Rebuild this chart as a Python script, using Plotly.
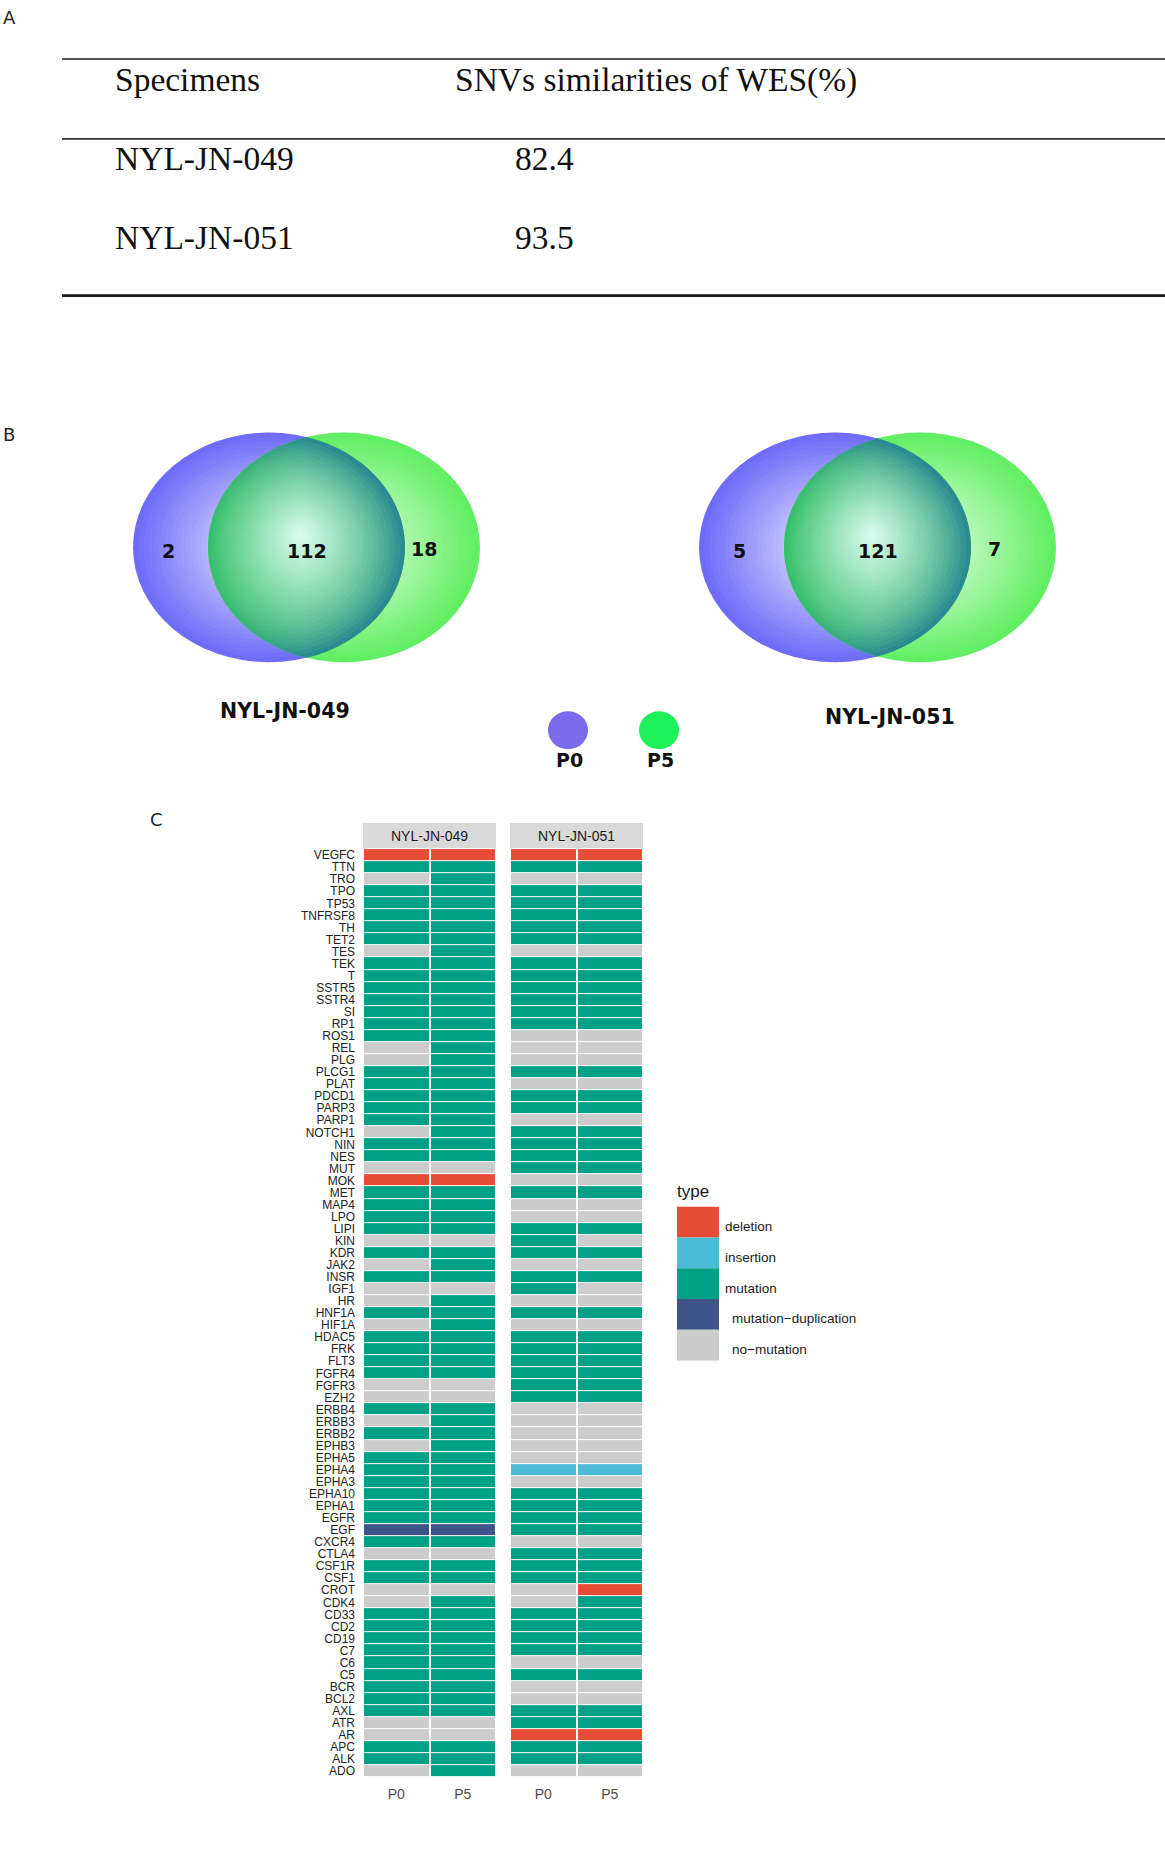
import numpy as np
import plotly.graph_objects as go

W, H = 1165, 1849

# ---------------- Panel A data ----------------
table_header = ["Specimens", "SNVs similarities of WES(%)"]
specimens = ["NYL-JN-049", "NYL-JN-051"]
similarity = ["82.4", "93.5"]

# ---------------- Panel B data ----------------
venn_names = ["NYL-JN-049", "NYL-JN-051"]
only_p0 = [2, 5]
shared = [112, 121]
only_p5 = [18, 7]
groups = ["P0", "P5"]

# ---------------- Panel C data ----------------
genes = ["VEGFC", "TTN", "TRO", "TPO", "TP53", "TNFRSF8", "TH", "TET2", "TES", "TEK",
         "T", "SSTR5", "SSTR4", "SI", "RP1", "ROS1", "REL", "PLG", "PLCG1", "PLAT",
         "PDCD1", "PARP3", "PARP1", "NOTCH1", "NIN", "NES", "MUT", "MOK", "MET", "MAP4",
         "LPO", "LIPI", "KIN", "KDR", "JAK2", "INSR", "IGF1", "HR", "HNF1A", "HIF1A",
         "HDAC5", "FRK", "FLT3", "FGFR4", "FGFR3", "EZH2", "ERBB4", "ERBB3", "ERBB2", "EPHB3",
         "EPHA5", "EPHA4", "EPHA3", "EPHA10", "EPHA1", "EGFR", "EGF", "CXCR4", "CTLA4", "CSF1R",
         "CSF1", "CROT", "CDK4", "CD33", "CD2", "CD19", "C7", "C6", "C5", "BCR",
         "BCL2", "AXL", "ATR", "AR", "APC", "ALK", "ADO"]
samples = ["NYL-JN-049", "NYL-JN-051"]
passages = ["P0", "P5"]
# codes: D=deletion, I=insertion, M=mutation, U=mutation-duplication, N=no-mutation
nyl049_p0 = list("DMNMMMMMNM" "MMMMMMNNMM" "MMMNMMNDMM" "MMNMNMNNMN"
                 "MMMMNNMNMN" "MMMMMMUMNM" "MNNMMMMMMM" "MMNNMMN")
nyl049_p5 = list("DMMMMMMMMM" "MMMMMMMMMM" "MMMMMMNDMM" "MMNMMMNMMM"
                 "MMMMNNMMMM" "MMMMMMUMNM" "MNMMMMMMMM" "MMNNMMM")
nyl051_p0 = list("DMNMMMMMNM" "MMMMMNNNMN" "MMNMMMMNMN" "NMMMNMMNMN"
                 "MMMMMMNNNN" "NINMMMMNMM" "MNNMMMMNMN" "NMMDMMN")
nyl051_p5 = list("DMNMMMMMNM" "MMMMMNNNMN" "MMNMMMMNMN" "NMNMNMNNMN"
                 "MMMMMMNNNN" "NINMMMMNMM" "MDMMMMMNMN" "NMMDMMN")
types = ["deletion", "insertion", "mutation", "mutation\u2212duplication", "no\u2212mutation"]
type_codes = ["D", "I", "M", "U", "N"]
type_colors = ["#E64B35", "#4DBBD5", "#00A087", "#3C5488", "#CCCCCC"]

# ------------------------------------------------------------------
fig = go.Figure()
shapes = []
annotations = []


def txt(x, y, s, size, family="Liberation Sans", color="#111111", xanchor="center",
        yanchor="middle", weight="normal"):
    annotations.append(dict(x=x, y=y, xref="x", yref="y", text=s, showarrow=False,
                            xanchor=xanchor, yanchor=yanchor,
                            font=dict(size=size, family=family, color=color, weight=weight)))


def line(x0, x1, y, width, color="#1a1a1a"):
    shapes.append(dict(type="line", xref="x", yref="y", x0=x0, x1=x1, y0=y, y1=y,
                       line=dict(color=color, width=width)))


def lerp(c0, c1, t):
    return "rgb(%d,%d,%d)" % tuple(round(a + (b - a) * t) for a, b in zip(c0, c1))


def poly_path(pts):
    return "M " + " L ".join("%.2f,%.2f" % (a, b) for a, b in pts) + " Z"


def ellipse_poly(cx, cy, rx, ry, n=120):
    a = np.linspace(0, 2 * np.pi, n, endpoint=False)
    return list(zip(cx + rx * np.cos(a), cy + ry * np.sin(a)))


def signed_area(p):
    return 0.5 * sum(p[i][0] * p[(i + 1) % len(p)][1] - p[(i + 1) % len(p)][0] * p[i][1]
                     for i in range(len(p)))


def clip_convex(subject, clipper):
    sgn = 1 if signed_area(clipper) > 0 else -1
    out = list(subject)
    n = len(clipper)
    for i in range(n):
        if not out:
            break
        ax, ay = clipper[i]
        bx, by = clipper[(i + 1) % n]

        def side(p):
            return sgn * ((bx - ax) * (p[1] - ay) - (by - ay) * (p[0] - ax))

        def inter(p, q):
            d1, d2 = side(p), side(q)
            t = d1 / (d1 - d2)
            return (p[0] + t * (q[0] - p[0]), p[1] + t * (q[1] - p[1]))

        inp = out
        out = []
        for j in range(len(inp)):
            cur = inp[j]
            prev = inp[j - 1]
            if side(cur) >= 0:
                if side(prev) < 0:
                    out.append(inter(prev, cur))
                out.append(cur)
            elif side(prev) >= 0:
                out.append(inter(prev, cur))
    return out


# ---------------- Panel A: table ----------------
txt(9, 17, "A", 18, family="DejaVu Sans", color="#222")
line(62, 1165, 58, 1.6)
line(62, 1165, 138, 1.6, color="#333")
line(62, 1165, 295, 2.8)
TF = 33.5
txt(113, 79, table_header[0], TF, family="Liberation Serif", xanchor="left")
txt(453, 79, table_header[1], TF, family="Liberation Serif", xanchor="left")
for i, (sp, val) in enumerate(zip(specimens, similarity)):
    yy = 158 + i * 79
    txt(113, yy, sp, TF, family="Liberation Serif", xanchor="left")
    txt(513, yy, val, TF, family="Liberation Serif", xanchor="left")

# ---------------- Panel B: Venn diagrams ----------------
txt(9, 434, "B", 18, family="DejaVu Sans", color="#222")

BLUE_EDGE, BLUE_CEN = (110, 108, 248), (238, 236, 255)
GREEN_EDGE, GREEN_CEN = (98, 238, 98), (232, 255, 232)
LENS_EDGE, LENS_CEN = (50, 192, 100), (215, 250, 238)
TINT_EDGE = (40, 105, 175)
NL = 26


def ellipse_layers(cx, cy, rx, ry, c_edge, c_cen):
    for k in range(NL):
        s = 1 - k / NL
        t = k / (NL - 1)
        shapes.append(dict(type="circle", xref="x", yref="y",
                           x0=cx - s * rx, x1=cx + s * rx, y0=cy - s * ry, y1=cy + s * ry,
                           fillcolor=lerp(c_edge, c_cen, t), line=dict(width=0)))


def lens_polygon(cxb, rxb, cxg, rxg, cy, ry):
    d0 = (cxg - cxb) / (rxg + rxb)
    umax = np.sqrt(1 - d0 ** 2)
    u = np.linspace(-umax, umax, 70)
    d = np.sqrt(np.clip(1 - u ** 2, 0, None))
    yy = cy + u * ry
    left = cxg - rxg * d
    right = cxb + rxb * d
    px = np.concatenate([right, left[::-1][1:-1]])
    py = np.concatenate([yy, yy[::-1][1:-1]])
    return list(zip(px, py))


def lens_layers(lens, lcx, lcy):
    for k in range(NL):
        s = 1 - k / NL
        t = (k / (NL - 1)) ** 0.9
        pts = [(lcx + s * (x - lcx), lcy + s * (y - lcy)) for x, y in lens]
        shapes.append(dict(type="path", xref="x", yref="y", path=poly_path(pts),
                           fillcolor=lerp(LENS_EDGE, LENS_CEN, t), line=dict(width=0)))


def blue_tint(lens, cxb, cy, rx, ry):
    # blue rings of the P0 ellipse seen through the overlap
    for k in range(NL):
        s_out = 1 - k / NL
        s_in = 1 - (k + 1) / NL
        op = 0.62 * s_out ** 3
        if op < 0.01:
            continue
        outer = clip_convex(ellipse_poly(cxb, cy, s_out * rx, s_out * ry), lens)
        if len(outer) < 3:
            continue
        path = poly_path(outer)
        inner = clip_convex(ellipse_poly(cxb, cy, s_in * rx, s_in * ry), lens) if s_in > 0 else []
        if len(inner) >= 3:
            path += " " + poly_path(inner[::-1])
        shapes.append(dict(type="path", xref="x", yref="y", path=path, fillrule="evenodd",
                           fillcolor=lerp(TINT_EDGE, BLUE_CEN, k / (NL - 1)),
                           opacity=op, line=dict(width=0)))


venn_geo = [  # (blue cx, green cx, title x, title y)
    (269, 344, 285, 711),
    (835, 920, 890, 717),
]
VCY, VRX, VRY = 547, 136, 115
for i, (cxb, cxg, tx, ty) in enumerate(venn_geo):
    ellipse_layers(cxb, VCY, VRX, VRY, BLUE_EDGE, BLUE_CEN)
    ellipse_layers(cxg, VCY, VRX, VRY, GREEN_EDGE, GREEN_CEN)
    lens = lens_polygon(cxb, VRX, cxg, VRX, VCY, VRY)
    lens_left = cxg - VRX
    lens_right = cxb + VRX
    lens_layers(lens, (lens_left + lens_right) / 2 - 6, VCY - 12)
    blue_tint(lens, cxb, VCY, VRX, VRY)
    txt((cxb - VRX + lens_left) / 2 - 2, VCY + 4, str(only_p0[i]), 19,
        family="DejaVu Sans", weight="bold")
    txt((lens_left + lens_right) / 2, VCY + 4, str(shared[i]), 19,
        family="DejaVu Sans", weight="bold")
    txt((lens_right + cxg + VRX) / 2 - 19, VCY + 2, str(only_p5[i]), 19,
        family="DejaVu Sans", weight="bold")
    txt(tx, ty, venn_names[i], 20.5, family="DejaVu Sans", weight="bold")

# Venn legend
for gx, gcol, gname in zip([568, 659], ["rgb(123,106,235)", "rgb(30,240,90)"], groups):
    shapes.append(dict(type="circle", xref="x", yref="y", x0=gx - 20, x1=gx + 20,
                       y0=730 - 19, y1=730 + 19, fillcolor=gcol, line=dict(width=0)))
    txt(gx + 1, 760, gname, 19, family="DejaVu Sans", weight="bold")

# ---------------- Panel C: heatmap ----------------
txt(156, 819, "C", 18, family="DejaVu Sans", color="#222")

code_idx = {c: i for i, c in enumerate(type_codes)}
cs = []
for i, c in enumerate(type_colors):
    cs.append([i / len(type_colors), c])
    cs.append([(i + 1) / len(type_colors), c])

cols = {"NYL-JN-049": (nyl049_p0, nyl049_p5), "NYL-JN-051": (nyl051_p0, nyl051_p5)}
x_dom = [(363, 496), (510, 643)]
Y_TOP, Y_BOT = 849, 1778
for k, smp in enumerate(samples):
    p0, p5 = cols[smp]
    z = [[code_idx[a], code_idx[b]] for a, b in zip(p0, p5)]
    ht = [[types[code_idx[a]], types[code_idx[b]]] for a, b in zip(p0, p5)]
    fig.add_trace(go.Heatmap(
        x=passages, y=genes, z=z, text=ht, zmin=-0.5, zmax=len(types) - 0.5,
        colorscale=cs, showscale=False, xgap=2, ygap=1,
        xaxis="x%d" % (k + 2), yaxis="y%d" % (k + 2),
        hovertemplate=smp + " %{x}<br>%{y}: %{text}<extra></extra>"))
    x0, x1 = x_dom[k]
    shapes.append(dict(type="rect", xref="x", yref="y", x0=x0, x1=x1, y0=823, y1=848,
                       fillcolor="#D9D9D9", line=dict(width=0)))
    txt((x0 + x1) / 2, 836, smp, 14, color="#1A1A1A")

axis_common = dict(showgrid=False, zeroline=False, showline=False, ticks="",
                   fixedrange=True)
layout_axes = {}
for k in range(2):
    x0, x1 = x_dom[k]
    layout_axes["xaxis%d" % (k + 2)] = dict(
        domain=[x0 / W, x1 / W], anchor="y%d" % (k + 2),
        tickfont=dict(size=14, color="#4D4D4D", family="Liberation Sans"),
        ticklabelstandoff=7, **axis_common)
    layout_axes["yaxis%d" % (k + 2)] = dict(
        domain=[1 - Y_BOT / H, 1 - Y_TOP / H], anchor="x%d" % (k + 2),
        autorange="reversed", tickmode="array", tickvals=genes, ticktext=genes,
        showticklabels=(k == 0), ticklabelstandoff=7,
        tickfont=dict(size=12, color="#222222", family="Liberation Sans"),
        **axis_common)

# heatmap legend
txt(675, 1192, "type", 17, color="#1A1A1A", xanchor="left")
for i, (tname, tcol) in enumerate(zip(types, type_colors)):
    y0 = 1207 + i * 30.8
    shapes.append(dict(type="rect", xref="x", yref="y", x0=677, x1=719, y0=y0, y1=y0 + 30.8,
                       fillcolor=tcol, line=dict(width=0)))
    txt(723 if i < 3 else 730, y0 + 20, tname, 13.5, color="#1A1A1A", xanchor="left")

# canvas axis spanning whole page
fig.add_trace(go.Scatter(x=[0, W], y=[0, H], mode="markers", marker=dict(opacity=0),
                         hoverinfo="skip", showlegend=False, xaxis="x", yaxis="y"))

fig.update_layout(
    width=W, height=H, margin=dict(l=0, r=0, t=0, b=0),
    paper_bgcolor="white", plot_bgcolor="rgba(0,0,0,0)", showlegend=False,
    xaxis=dict(domain=[0, 1], range=[0, W], visible=False, fixedrange=True),
    yaxis=dict(domain=[0, 1], range=[H, 0], visible=False, fixedrange=True),
    shapes=shapes, annotations=annotations, **layout_axes)

fig.write_html("out.html", config={"displayModeBar": False},
               post_script="document.body.style.margin='0';")
